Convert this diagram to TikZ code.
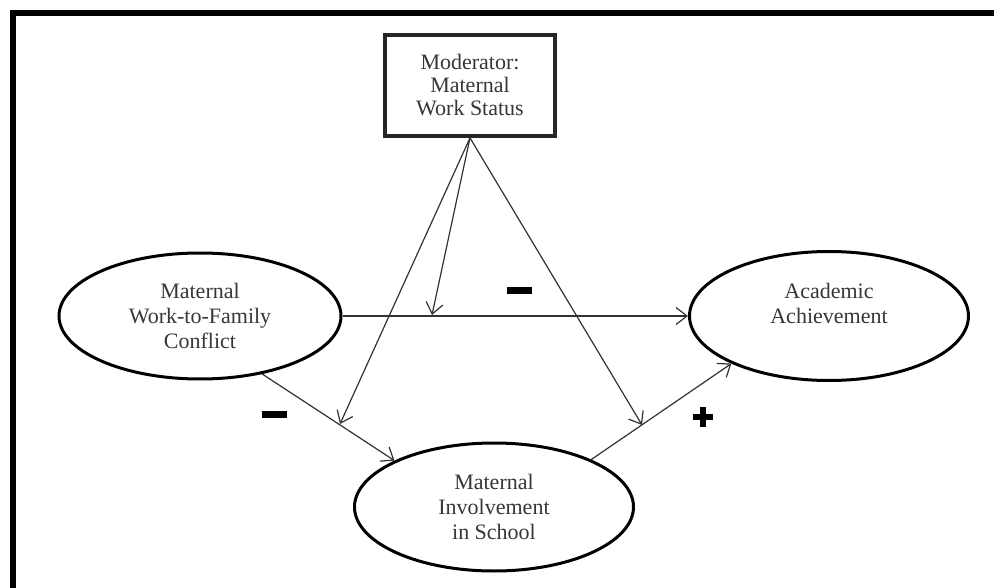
\documentclass[tikz,border=0pt]{standalone}
\usepackage{fontspec}
\setmainfont{Liberation Serif}
\usetikzlibrary{shapes.geometric,arrows.meta}
\definecolor{txt}{RGB}{55,55,55}
\definecolor{ln}{RGB}{50,50,50}
\tikzset{
  construct/.style={ellipse, draw=black, line width=3pt, inner sep=0pt, align=center,
    text=txt, font=\fontsize{22}{25}\selectfont},
  modbox/.style={rectangle, draw=black!85, line width=3.8pt, inner sep=0pt, align=center,
    text=txt, font=\fontsize{22}{23}\selectfont, minimum width=170pt, minimum height=101pt},
  path/.style={draw=ln, line width=1.2pt, -{Straight Barb[length=11pt,width=17pt,line width=1.2pt]}},
  signbar/.style={fill=black, inner sep=0pt, minimum width=25pt, minimum height=7pt}
}
\begin{document}
\begin{tikzpicture}[x=1pt,y=-1pt]
\useasboundingbox (0,0) rectangle (994,588);
\fill[white] (0,0) rectangle (994,588);
% frame
\draw[line width=6pt] (13,588) -- (13,13) -- (994,13);
% nodes
\node[modbox] (mod) at (470,85.5) {Moderator:\\Maternal\\Work Status};
\node[construct, minimum width=282pt, minimum height=126pt] (conf) at (200,316)
  {Maternal\\Work-to-Family\\Conflict};
\node[construct, minimum width=279pt, minimum height=128pt] (inv) at (494,507)
  {Maternal\\Involvement\\in School};
\node[construct, minimum width=279pt, minimum height=129pt] (ach) at (829,316)
  {Academic\\Achievement\\\mbox{}};
% moderation targets
\coordinate (m1) at (340,424);
\coordinate (m2) at (432,315);
\coordinate (m3) at (642,425);
% main paths
\draw[path] (conf.east) -- (ach.west);
\draw[path] (conf.-43) -- (inv.155);
\draw[path] (inv.26) -- (ach.206);
% moderator paths
\draw[path] (mod.south) -- (m1);
\draw[path] (mod.south) -- (m2);
\draw[path] (mod.south) -- (m3);
% signs
\node[signbar] (minusA) at (519.5,291) {};
\node[signbar] (minusB) at (274.5,414) {};
\fill (703,417) +(-10,-3.3) rectangle +(10,3.3);
\fill (703,417) +(-3.3,-10) rectangle +(3.3,10);
\end{tikzpicture}
\end{document}
